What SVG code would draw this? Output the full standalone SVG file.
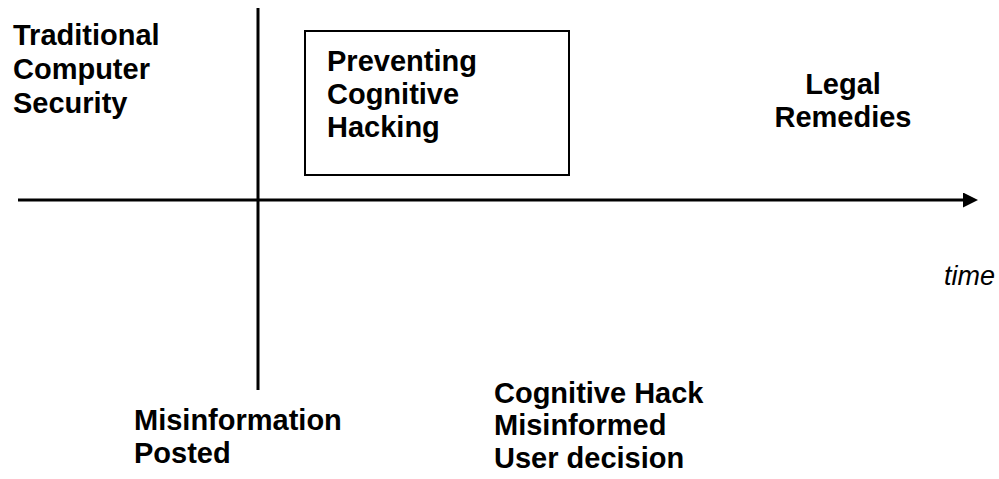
<svg xmlns="http://www.w3.org/2000/svg" width="999" height="479" viewBox="0 0 999 479">
  <style>
    .lbl { font-family: "Liberation Sans", Arial, sans-serif; font-size: 29px; font-weight: bold; fill: #000; }
    .axis { stroke: #000; stroke-width: 3; fill: none; }
    .it { font-family: "Liberation Sans", Arial, sans-serif; font-size: 27px; font-style: italic; fill: #000; }
  </style>
  <defs>
    <marker id="arrow" viewBox="0 0 10 10" refX="0" refY="5" markerWidth="5" markerHeight="5" markerUnits="strokeWidth" orient="auto">
      <path d="M0,0 L10,5 L0,10 z" fill="#000"/>
    </marker>
  </defs>
  <rect width="999" height="479" fill="#fff"/>
  <!-- time axis and event marker -->
  <g id="connectors">
    <line class="axis" x1="18" y1="200" x2="963" y2="200" marker-end="url(#arrow)"/>
    <line class="axis" x1="258" y1="8" x2="258" y2="390"/>
  </g>
  <g id="traditional">
    <text class="lbl"><tspan x="13" y="45">Traditional</tspan><tspan x="13" y="79">Computer</tspan><tspan x="13" y="113">Security</tspan></text>
  </g>
  <g id="preventing">
    <rect x="305" y="31" width="264" height="144" fill="none" stroke="#000" stroke-width="2"/>
    <text class="lbl"><tspan x="327" y="71">Preventing</tspan><tspan x="327" y="104">Cognitive</tspan><tspan x="327" y="137">Hacking</tspan></text>
  </g>
  <g id="legal">
    <text class="lbl" text-anchor="middle"><tspan x="843" y="94">Legal</tspan><tspan x="843" y="127">Remedies</tspan></text>
  </g>
  <g id="time">
    <text class="it" x="944" y="285">time</text>
  </g>
  <g id="misinformation">
    <text class="lbl"><tspan x="134" y="430">Misinformation</tspan><tspan x="134" y="463">Posted</tspan></text>
  </g>
  <g id="hack">
    <text class="lbl"><tspan x="494" y="403">Cognitive Hack</tspan><tspan x="494" y="435">Misinformed</tspan><tspan x="494" y="468">User decision</tspan></text>
  </g>
</svg>
